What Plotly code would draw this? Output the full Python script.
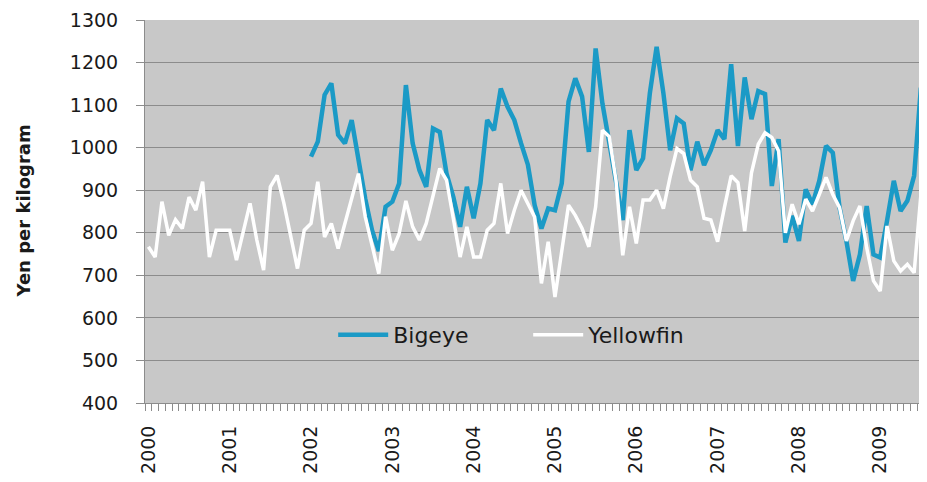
import plotly.graph_objects as go

# Monthly series, Jan 2000 onward (index 0 = Jan 2000)
years = ["2000", "2001", "2002", "2003", "2004", "2005", "2006", "2007", "2008", "2009"]

yellowfin = [
    767, 743, 873, 794, 831, 810, 884, 853, 920, 743, 806, 806,   # 2000
    806, 736, 802, 869, 783, 712, 908, 935, 869, 790, 716, 806,   # 2001
    822, 920, 790, 822, 763, 822, 880, 939, 838, 775, 704, 838,   # 2002
    759, 798, 875, 814, 783, 822, 884, 951, 924, 837, 743, 814,   # 2003
    743, 743, 806, 822, 916, 798, 853, 900, 869, 837, 681, 779,   # 2004
    649, 751, 865, 841, 810, 767, 861, 1041, 1026, 924, 747, 861, # 2005
    775, 877, 877, 900, 857, 932, 998, 986, 924, 908, 834, 830,   # 2006
    779, 859, 934, 918, 804, 941, 1008, 1035, 1024, 992, 800, 867, # 2007
    820, 879, 851, 890, 930, 890, 859, 781, 828, 863, 765, 687,   # 2008
    663, 816, 734, 710, 726, 706, 890,                            # 2009
]

bigeye = [None] * 24 + [
    979, 1014, 1124, 1151, 1030, 1010, 1065, 965, 880, 806, 757, 861,    # 2002
    873, 916, 1147, 1010, 947, 908, 1045, 1037, 939, 884, 814, 908,      # 2003
    834, 916, 1065, 1041, 1139, 1096, 1065, 1010, 960, 865, 810, 857,    # 2004
    853, 916, 1108, 1163, 1120, 990, 1233, 1104, 1010, 930, 830, 1041,   # 2005
    947, 975, 1128, 1237, 1128, 994, 1069, 1057, 947, 1014, 959, 994,    # 2006
    1041, 1020, 1196, 1004, 1165, 1067, 1133, 1126, 910, 1020, 777, 840, # 2007
    781, 902, 867, 922, 1004, 988, 859, 781, 687, 749, 863, 749,         # 2008
    742, 828, 922, 851, 875, 934, 1141,                                  # 2009
]

months = list(range(len(yellowfin)))
year_ticks = [12 * k for k in range(len(years))]

BLUE = "#1B9AC6"
GRID = "#8C8C8C"
FONT = "DejaVu Sans"

fig = go.Figure()
fig.add_trace(go.Scatter(x=months, y=bigeye, mode="lines", name="Bigeye",
                         line=dict(color=BLUE, width=4.5), connectgaps=False))
fig.add_trace(go.Scatter(x=months, y=yellowfin, mode="lines", name="Yellowfin",
                         line=dict(color="white", width=3.5)))

# page body has an 8px margin, so the figure is sized/offset to compensate
fig.update_layout(
    width=919, height=474,
    margin=dict(l=137, r=0, t=12, b=79, autoexpand=False),
    paper_bgcolor="white",
    plot_bgcolor="#C8C8C8",
    font=dict(family=FONT, size=19, color="#1a1a1a"),
    showlegend=True,
    legend=dict(orientation="h", x=0.49, y=0.178, xanchor="center", yanchor="middle",
                bgcolor="rgba(0,0,0,0)", font=dict(size=22, family=FONT, color="#1a1a1a"),
                itemwidth=50, entrywidth=130),
    xaxis=dict(
        range=[-0.5, 114.9], automargin=False,
        tickmode="array", tickvals=year_ticks, ticktext=years,
        tickangle=-90, ticks="", showgrid=False, zeroline=False,
        showline=True, linecolor=GRID, linewidth=1,
        ticklabelstandoff=14,
        minor=dict(tick0=-0.5, dtick=1, ticks="outside", ticklen=7,
                   tickcolor=GRID, tickwidth=1, showgrid=False),
    ),
    yaxis=dict(
        range=[400, 1300], dtick=100, tick0=400, automargin=False,
        ticks="outside", ticklen=8, tickcolor=GRID,
        showgrid=True, gridcolor=GRID, gridwidth=1,
        showline=True, linecolor=GRID, linewidth=1, zeroline=False,
        ticklabelstandoff=14,
    ),
    annotations=[dict(
        text="<b>Yen per kilogram</b>", xref="paper", yref="paper",
        x=(23 - 145) / 782, y=0.5, textangle=-90, showarrow=False,
        font=dict(family=FONT, size=18, color="#1a1a1a"),
        xanchor="center", yanchor="middle",
    )],
)

fig.write_html("out.html")
